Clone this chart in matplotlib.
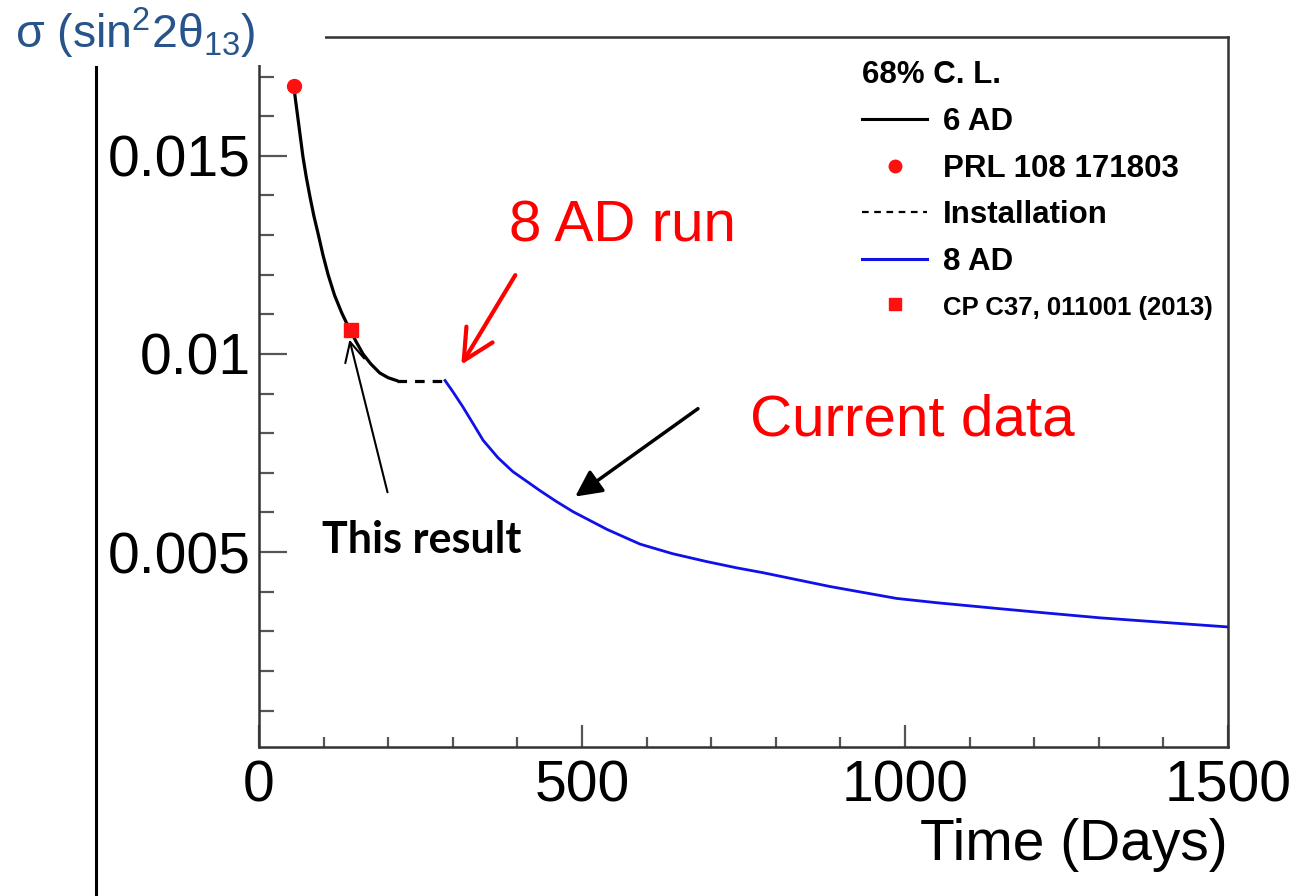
import matplotlib
matplotlib.use('Agg')
import matplotlib.pyplot as plt
from matplotlib.lines import Line2D
from matplotlib.patches import Rectangle
from matplotlib.ticker import MultipleLocator, FuncFormatter
from matplotlib.font_manager import FontProperties

plt.rcParams['font.family'] = ['Liberation Sans', 'DejaVu Sans']
plt.rcParams['mathtext.default'] = 'regular'

# sensitivity curves (days, sigma)
days_6ad = [54, 57, 60, 64, 68, 73, 79, 85, 92, 99, 107, 117, 128, 135,
            142, 150, 161, 173, 187, 200, 213]
sigma_6ad = [0.01674, 0.01635, 0.01598, 0.01548, 0.01498, 0.01448,
             0.01396, 0.01348, 0.01300, 0.01250, 0.01200, 0.01148,
             0.01104, 0.01080, 0.01058, 0.01032, 0.01000, 0.00975,
             0.00952, 0.00940, 0.00933]
days_install = [213, 288]
sigma_install = [0.00933, 0.00933]
days_8ad = [288, 300, 315, 327, 347, 370, 393, 435, 460, 486, 539, 590,
            640, 693, 740, 780, 884, 987, 1050, 1147, 1220, 1302, 1405,
            1500]
sigma_8ad = [0.00933, 0.00905, 0.00868, 0.00836, 0.00782, 0.00738,
             0.00703, 0.00655, 0.00628, 0.00602, 0.00557, 0.00520,
             0.00496, 0.00476, 0.00460, 0.00448, 0.00413, 0.00383,
             0.00372, 0.00357, 0.00346, 0.00334, 0.00322, 0.00311]
prl_day, prl_sigma = [54], [0.01677]
cp_day, cp_sigma = [142], [0.01061]

x_ticks = [0, 500, 1000, 1500]
y_ticks = [0.005, 0.01, 0.015]
legend_labels = ['6 AD', 'PRL 108 171803', 'Installation', '8 AD',
                 'CP C37, 011001 (2013)']

W, H = 1299, 896
fig = plt.figure(figsize=(W / 100, H / 100), dpi=100)
fig.patch.set_facecolor('white')
ax = fig.add_axes([259 / W, 1 - 747 / H, 969 / W, 710 / H])

ax.plot(days_6ad, sigma_6ad, color='black', lw=2.3, zorder=3)
ax.plot(days_install, sigma_install, color='black', lw=2.3,
        dashes=(3, 2.5), zorder=3)
ax.plot(days_8ad, sigma_8ad, color='#1010e8', lw=2.0, zorder=3)
ax.plot(prl_day, prl_sigma, 'o', color='#ff1010', ms=10, zorder=4)
ax.plot(cp_day, cp_sigma, 's', color='#ff1010', ms=10, zorder=4)

ax.set_xlim(0, 1500)
ax.set_ylim(0.00008, 0.018)
ax.set_xticks(x_ticks)
ax.set_yticks(y_ticks)
ax.xaxis.set_minor_locator(MultipleLocator(100))
ax.yaxis.set_minor_locator(MultipleLocator(0.001))
ax.yaxis.set_major_formatter(FuncFormatter(lambda v, p: '%g' % v))

ax.tick_params(axis='both', which='both', direction='in', width=1.6,
               color='#555555', labelsize=41)
ax.tick_params(axis='y', which='major', length=20, pad=6)
ax.tick_params(axis='y', which='minor', length=11)
ax.tick_params(axis='x', which='major', length=16, pad=9)
ax.tick_params(axis='x', which='minor', length=7)
for s in ax.spines.values():
    s.set_linewidth(1.8)
    s.set_color('#333333')

ax.text(1.0, -0.138, 'Time (Days)', transform=ax.transAxes,
        ha='right', va='center', fontsize=41)

# annotations
ax.text(562, 0.01321, '8 AD run', color='red', fontsize=42,
        ha='center', va='center')
ax.annotate('', xy=(311, 0.00967), xytext=(399, 0.01205),
            arrowprops=dict(arrowstyle='->', color='red', lw=3,
                            mutation_scale=55))
ax.text(760, 0.00833, 'Current data', color='red', fontsize=42,
        ha='left', va='center')
ax.annotate('', xy=(486, 0.00636), xytext=(683, 0.00866),
            arrowprops=dict(arrowstyle='-|>', color='black', lw=2.5,
                            mutation_scale=40))
ax.text(252, 0.0053, 'This result', fontsize=31, fontweight='bold',
        family='Lato', ha='center', va='center')
ax.annotate('', xy=(139, 0.01043), xytext=(200, 0.00644),
            arrowprops=dict(arrowstyle='->', color='black', lw=1.5,
                            mutation_scale=35))

# legend
handles = [
    Line2D([], [], color='black', lw=2.2),
    Line2D([], [], ls='none', marker='o', color='#ff1010', ms=9),
    Line2D([], [], color='black', lw=1.6, dashes=(3, 2.5)),
    Line2D([], [], color='#1010e8', lw=2.2),
    Line2D([], [], ls='none', marker='s', color='#ff1010', ms=8),
]
bold = FontProperties(family='Liberation Sans', weight='bold', size=22.5)
leg = ax.legend(handles, legend_labels, loc='upper left',
                bbox_to_anchor=(0.622, 0.967), frameon=False,
                title='68% C. L.', alignment='left', prop=bold,
                title_fontproperties=bold, handlelength=2.1,
                handletextpad=0.5, labelspacing=0.53,
                borderaxespad=0, borderpad=0)
leg.get_texts()[4].set_fontsize(18.5)

# slide decorations: white box behind the axis title, vertical bar at left
fig.add_artist(Rectangle((0, 1 - 65 / H), 325 / W, 65 / H,
                         transform=fig.transFigure, facecolor='white',
                         edgecolor='none', zorder=5))
fig.add_artist(Line2D([96 / W, 96 / W], [0, 1 - 67 / H],
                      transform=fig.transFigure, color='black', lw=2.2))
fig.text(15 / W, 1 - 33 / H, r'σ (sin$^{2}$2θ$_{13}$)', color='#27548a',
         fontsize=33.5, ha='left', va='center', zorder=6)

fig.savefig('out.png', dpi=100)
